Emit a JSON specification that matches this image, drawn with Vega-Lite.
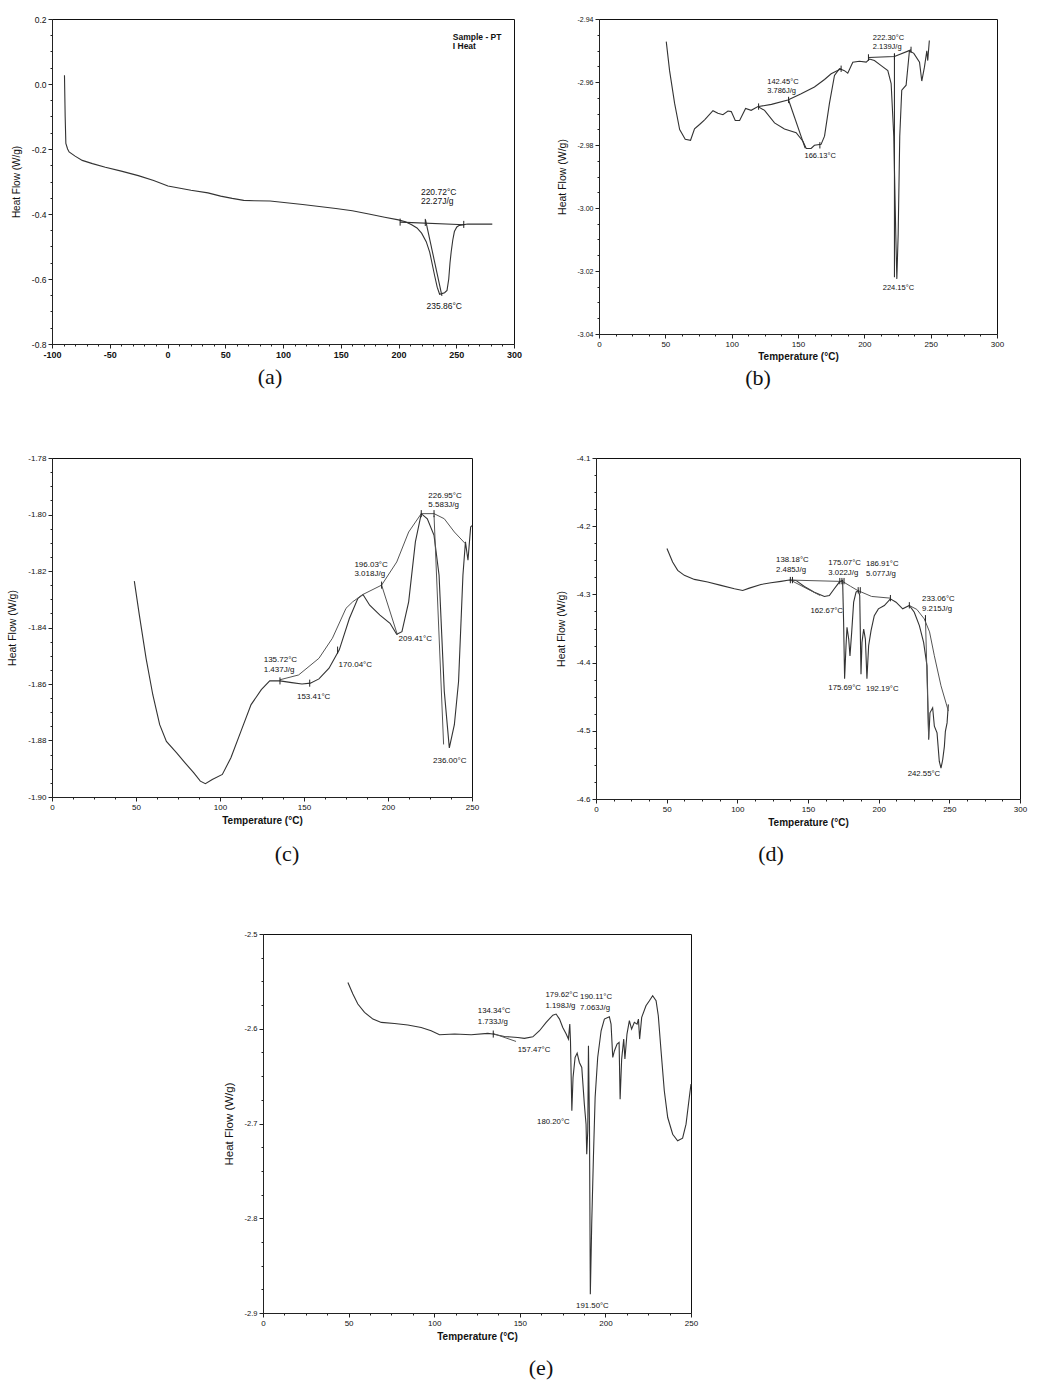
{
"$schema": "https://vega.github.io/schema/vega-lite/v6.json",
"background": "white",
"padding": {"left": 6, "top": 14, "right": 0, "bottom": 0},
"spacing": 63,
"datasets": {
"aCurve": [{"t":-89.2,"hf":0.027},{"t":-88.6,"hf":-0.1},{"t":-88,"hf":-0.183},{"t":-86.5,"hf":-0.2},{"t":-85.2,"hf":-0.209},{"t":-80,"hf":-0.222},{"t":-73.8,"hf":-0.235},{"t":-65,"hf":-0.245},{"t":-53.8,"hf":-0.256},{"t":-40,"hf":-0.268},{"t":-25.3,"hf":-0.282},{"t":-12,"hf":-0.297},{"t":0.4,"hf":-0.314},{"t":20.3,"hf":-0.327},{"t":35,"hf":-0.335},{"t":46,"hf":-0.345},{"t":56,"hf":-0.352},{"t":66,"hf":-0.358},{"t":75,"hf":-0.359},{"t":88.8,"hf":-0.36},{"t":117,"hf":-0.371},{"t":145.8,"hf":-0.383},{"t":160,"hf":-0.39},{"t":174.3,"hf":-0.4},{"t":188,"hf":-0.41},{"t":200,"hf":-0.418},{"t":206,"hf":-0.424},{"t":211.4,"hf":-0.433},{"t":216,"hf":-0.443},{"t":220,"hf":-0.459},{"t":224,"hf":-0.485},{"t":227,"hf":-0.517},{"t":231.3,"hf":-0.59},{"t":233.5,"hf":-0.625},{"t":235.6,"hf":-0.647},{"t":237.5,"hf":-0.645},{"t":239.9,"hf":-0.642},{"t":242,"hf":-0.635},{"t":243.5,"hf":-0.6},{"t":244.6,"hf":-0.55},{"t":245.6,"hf":-0.517},{"t":247,"hf":-0.48},{"t":248.4,"hf":-0.454},{"t":250.5,"hf":-0.44},{"t":252.7,"hf":-0.435},{"t":259.9,"hf":-0.431},{"t":281.2,"hf":-0.431}],
"aLines": [{"seg":1,"t":201.4,"hf":-0.425},{"seg":1,"t":257,"hf":-0.433},{"seg":2,"t":223.4,"hf":-0.418},{"seg":2,"t":237.6,"hf":-0.652}],
"aTicks": [{"t":201.4,"hf":-0.425},{"t":223.2,"hf":-0.426},{"t":256.5,"hf":-0.432}],
"aText": [{"t":219.4,"hf":-0.331,"label":"220.72°C"},{"t":219.4,"hf":-0.36,"label":"22.27J/g"},{"t":224.2,"hf":-0.683,"label":"235.86°C"}],
"aNote": [{"t":247,"hf":0.145,"label":"Sample - PT"},{"t":247,"hf":0.117,"label":"I Heat"}],
"bCurve": [{"t":50.7,"hf":-2.9472},{"t":53.2,"hf":-2.9564},{"t":57,"hf":-2.9668},{"t":60.8,"hf":-2.9751},{"t":65,"hf":-2.9782},{"t":69,"hf":-2.9785},{"t":72,"hf":-2.9749},{"t":75.8,"hf":-2.9735},{"t":79.6,"hf":-2.972},{"t":85.9,"hf":-2.9691},{"t":89.6,"hf":-2.9699},{"t":93.4,"hf":-2.9704},{"t":97.2,"hf":-2.9692},{"t":99.7,"hf":-2.9694},{"t":102.7,"hf":-2.9722},{"t":106,"hf":-2.9722},{"t":110.5,"hf":-2.9684},{"t":114.7,"hf":-2.969},{"t":119.8,"hf":-2.9678},{"t":124.8,"hf":-2.969},{"t":132.3,"hf":-2.973},{"t":139.8,"hf":-2.9749},{"t":148.6,"hf":-2.9761},{"t":153.7,"hf":-2.9788},{"t":156.2,"hf":-2.9811},{"t":159.9,"hf":-2.9811},{"t":162.4,"hf":-2.9801},{"t":167.4,"hf":-2.9798},{"t":170,"hf":-2.9772},{"t":173.7,"hf":-2.9668},{"t":177.5,"hf":-2.9579},{"t":181.3,"hf":-2.9558},{"t":185,"hf":-2.9564},{"t":187.5,"hf":-2.9572},{"t":191.3,"hf":-2.9537},{"t":196.3,"hf":-2.9534},{"t":201.4,"hf":-2.9537},{"t":203.9,"hf":-2.9527},{"t":207.6,"hf":-2.9532},{"t":212.7,"hf":-2.9548},{"t":217.7,"hf":-2.9564},{"t":220.2,"hf":-2.9605},{"t":222.2,"hf":-2.9772},{"t":223.7,"hf":-3.0084},{"t":224.5,"hf":-3.0225},{"t":225.5,"hf":-3.0084},{"t":226.7,"hf":-2.9772},{"t":228.2,"hf":-2.9626},{"t":231.5,"hf":-2.961},{"t":234,"hf":-2.9501},{"t":237.3,"hf":-2.9509},{"t":241.6,"hf":-2.9537},{"t":243.3,"hf":-2.9597},{"t":245.3,"hf":-2.9553},{"t":247.1,"hf":-2.9501},{"t":247.8,"hf":-2.9532},{"t":249,"hf":-2.9468}],
"bLines": [{"seg":1,"t":120.3,"hf":-2.9678},{"seg":1,"t":130,"hf":-2.9671},{"seg":1,"t":142.4,"hf":-2.9657},{"seg":1,"t":152,"hf":-2.9638},{"seg":1,"t":162.4,"hf":-2.9616},{"seg":1,"t":170,"hf":-2.9592},{"seg":1,"t":175,"hf":-2.9574},{"seg":1,"t":182.5,"hf":-2.9558},{"seg":2,"t":142.9,"hf":-2.9657},{"seg":2,"t":155.4,"hf":-2.981},{"seg":3,"t":203.1,"hf":-2.9522},{"seg":3,"t":222.7,"hf":-2.9519},{"seg":3,"t":235.2,"hf":-2.9498},{"seg":4,"t":222.7,"hf":-2.951},{"seg":4,"t":222.7,"hf":-3.022}],
"bTicks": [{"t":120.3,"hf":-2.9678},{"t":142.9,"hf":-2.9657},{"t":166.5,"hf":-2.9801},{"t":182.5,"hf":-2.9558},{"t":203.1,"hf":-2.9522},{"t":222.7,"hf":-2.9519},{"t":235.2,"hf":-2.9498}],
"bText": [{"t":126.8,"hf":-2.96,"label":"142.45°C"},{"t":126.8,"hf":-2.9628,"label":"3.786J/g"},{"t":154.9,"hf":-2.9834,"label":"166.13°C"},{"t":206.4,"hf":-2.9459,"label":"222.30°C"},{"t":206.4,"hf":-2.9489,"label":"2.139J/g"},{"t":213.9,"hf":-3.0253,"label":"224.15°C"}],
"cCurve": [{"t":49,"hf":-1.8236},{"t":52,"hf":-1.8356},{"t":56,"hf":-1.8509},{"t":60,"hf":-1.8638},{"t":64.1,"hf":-1.8744},{"t":68.1,"hf":-1.8803},{"t":74.2,"hf":-1.8844},{"t":79.2,"hf":-1.8879},{"t":84.3,"hf":-1.8914},{"t":88.3,"hf":-1.8944},{"t":91.3,"hf":-1.8953},{"t":95.4,"hf":-1.8938},{"t":101.4,"hf":-1.892},{"t":106.5,"hf":-1.8861},{"t":112.5,"hf":-1.8767},{"t":118.5,"hf":-1.8673},{"t":124.6,"hf":-1.862},{"t":129.6,"hf":-1.8589},{"t":135.7,"hf":-1.8589},{"t":142.7,"hf":-1.8595},{"t":148.8,"hf":-1.86},{"t":153.8,"hf":-1.8597},{"t":158.9,"hf":-1.8582},{"t":164.9,"hf":-1.8544},{"t":171,"hf":-1.8479},{"t":177,"hf":-1.8368},{"t":182.1,"hf":-1.8297},{"t":185.1,"hf":-1.8283},{"t":189.1,"hf":-1.8321},{"t":195.2,"hf":-1.8356},{"t":201.2,"hf":-1.8385},{"t":205.2,"hf":-1.8424},{"t":208.3,"hf":-1.8415},{"t":212.3,"hf":-1.8309},{"t":216.3,"hf":-1.8097},{"t":219.8,"hf":-1.7997},{"t":223.4,"hf":-1.8015},{"t":227.4,"hf":-1.8074},{"t":230.4,"hf":-1.8215},{"t":233.5,"hf":-1.8626},{"t":236.5,"hf":-1.8826},{"t":239.5,"hf":-1.8744},{"t":242,"hf":-1.8591},{"t":244.6,"hf":-1.8215},{"t":246.1,"hf":-1.8097},{"t":247.6,"hf":-1.8162},{"t":249.2,"hf":-1.8044},{"t":250,"hf":-1.8039}],
"cLines": [{"seg":1,"t":135.7,"hf":-1.8585},{"seg":1,"t":146.8,"hf":-1.8568},{"seg":1,"t":158.9,"hf":-1.8509},{"seg":1,"t":166.9,"hf":-1.8438},{"seg":1,"t":175,"hf":-1.8332},{"seg":1,"t":179,"hf":-1.8309},{"seg":1,"t":185.1,"hf":-1.8283},{"seg":1,"t":196.2,"hf":-1.825},{"seg":1,"t":205.2,"hf":-1.8168},{"seg":1,"t":212.3,"hf":-1.8062},{"seg":1,"t":219.8,"hf":-1.7997},{"seg":1,"t":227.4,"hf":-1.7997},{"seg":1,"t":233.5,"hf":-1.8015},{"seg":1,"t":239.5,"hf":-1.8062},{"seg":1,"t":246,"hf":-1.8103},{"seg":2,"t":196.2,"hf":-1.825},{"seg":2,"t":205.6,"hf":-1.8426},{"seg":3,"t":227.4,"hf":-1.8004},{"seg":3,"t":233.1,"hf":-1.8814}],
"cTicks": [{"t":135.7,"hf":-1.8589},{"t":153.4,"hf":-1.8597},{"t":170.0,"hf":-1.848},{"t":196.2,"hf":-1.825},{"t":219.8,"hf":-1.7997},{"t":227.4,"hf":-1.7997}],
"cText": [{"t":126,"hf":-1.8515,"label":"135.72°C"},{"t":126,"hf":-1.855,"label":"1.437J/g"},{"t":145.8,"hf":-1.8647,"label":"153.41°C"},{"t":170.6,"hf":-1.8532,"label":"170.04°C"},{"t":180,"hf":-1.8177,"label":"196.03°C"},{"t":180,"hf":-1.8209,"label":"3.018J/g"},{"t":206.3,"hf":-1.8442,"label":"209.41°C"},{"t":224,"hf":-1.7933,"label":"226.95°C"},{"t":224,"hf":-1.7968,"label":"5.583J/g"},{"t":226.8,"hf":-1.8871,"label":"236.00°C"}],
"dCurve": [{"t":50.2,"hf":-4.2327},{"t":54.2,"hf":-4.2524},{"t":57.8,"hf":-4.2647},{"t":62.5,"hf":-4.2721},{"t":69.6,"hf":-4.278},{"t":79,"hf":-4.2819},{"t":88.4,"hf":-4.2868},{"t":97.9,"hf":-4.2917},{"t":103.8,"hf":-4.2942},{"t":108.5,"hf":-4.2908},{"t":116.7,"hf":-4.2854},{"t":123.8,"hf":-4.283},{"t":130.9,"hf":-4.2809},{"t":136.8,"hf":-4.279},{"t":141.5,"hf":-4.2795},{"t":147.4,"hf":-4.2883},{"t":154.5,"hf":-4.2967},{"t":161.6,"hf":-4.303},{"t":165.1,"hf":-4.3016},{"t":168.6,"hf":-4.2917},{"t":172.2,"hf":-4.2819},{"t":174.5,"hf":-4.2795},{"t":175.2,"hf":-4.3409},{"t":175.9,"hf":-4.4235},{"t":176.9,"hf":-4.3753},{"t":177.6,"hf":-4.3483},{"t":178.8,"hf":-4.3655},{"t":179.7,"hf":-4.3901},{"t":180.9,"hf":-4.3557},{"t":182.3,"hf":-4.3114},{"t":184,"hf":-4.2967},{"t":185.6,"hf":-4.2942},{"t":186.6,"hf":-4.3016},{"t":187.5,"hf":-4.4171},{"t":188.2,"hf":-4.3704},{"t":189.4,"hf":-4.3507},{"t":190.6,"hf":-4.3655},{"t":191.7,"hf":-4.4235},{"t":192.9,"hf":-4.3753},{"t":194.6,"hf":-4.3532},{"t":196.9,"hf":-4.3311},{"t":199.8,"hf":-4.3212},{"t":204,"hf":-4.3163},{"t":208.3,"hf":-4.3065},{"t":212.3,"hf":-4.3114},{"t":217,"hf":-4.3212},{"t":221.7,"hf":-4.3163},{"t":225.2,"hf":-4.3261},{"t":228.8,"hf":-4.3458},{"t":231.8,"hf":-4.3704},{"t":234.2,"hf":-4.4048},{"t":235.4,"hf":-4.513},{"t":236.3,"hf":-4.4737},{"t":238.2,"hf":-4.4663},{"t":239.4,"hf":-4.4933},{"t":241.3,"hf":-4.5031},{"t":242.9,"hf":-4.5449},{"t":244.1,"hf":-4.5548},{"t":245.3,"hf":-4.5425},{"t":246.5,"hf":-4.5228},{"t":247.2,"hf":-4.5007},{"t":248.4,"hf":-4.4884},{"t":249.3,"hf":-4.4613}],
"dLines": [{"seg":1,"t":136.8,"hf":-4.279},{"seg":1,"t":174.5,"hf":-4.281},{"seg":2,"t":138,"hf":-4.2795},{"seg":2,"t":158.6,"hf":-4.3016},{"seg":3,"t":174.5,"hf":-4.281},{"seg":3,"t":180,"hf":-4.288},{"seg":3,"t":185.1,"hf":-4.2942},{"seg":3,"t":195,"hf":-4.303},{"seg":3,"t":208.3,"hf":-4.3055},{"seg":4,"t":221.7,"hf":-4.3163},{"seg":4,"t":227,"hf":-4.322},{"seg":4,"t":232.3,"hf":-4.336},{"seg":4,"t":236,"hf":-4.355},{"seg":4,"t":239.4,"hf":-4.39},{"seg":4,"t":244.1,"hf":-4.434},{"seg":4,"t":249.3,"hf":-4.471},{"seg":5,"t":233.1,"hf":-4.335},{"seg":5,"t":235.4,"hf":-4.51}],
"dTicks": [{"t":137.5,"hf":-4.279},{"t":139,"hf":-4.279},{"t":172.5,"hf":-4.2805},{"t":174,"hf":-4.2805},{"t":175.5,"hf":-4.2805},{"t":185.5,"hf":-4.294},{"t":187,"hf":-4.294},{"t":208.3,"hf":-4.3055},{"t":221.7,"hf":-4.316},{"t":233.1,"hf":-4.335}],
"dText": [{"t":127.4,"hf":-4.25,"label":"138.18°C"},{"t":127.4,"hf":-4.2637,"label":"2.485J/g"},{"t":164.4,"hf":-4.2534,"label":"175.07°C"},{"t":164.4,"hf":-4.2681,"label":"3.022J/g"},{"t":191,"hf":-4.2549,"label":"186.91°C"},{"t":191,"hf":-4.2696,"label":"5.077J/g"},{"t":151.7,"hf":-4.3237,"label":"162.67°C"},{"t":230.7,"hf":-4.3065,"label":"233.06°C"},{"t":230.7,"hf":-4.3212,"label":"9.215J/g"},{"t":164.4,"hf":-4.4368,"label":"175.69°C"},{"t":191,"hf":-4.4383,"label":"192.19°C"},{"t":220.5,"hf":-4.5636,"label":"242.55°C"}],
"eCurve": [{"t":49.6,"hf":-2.5511},{"t":52.5,"hf":-2.5634},{"t":55.4,"hf":-2.5739},{"t":59.3,"hf":-2.5827},{"t":64.2,"hf":-2.5898},{"t":69.1,"hf":-2.5933},{"t":76.8,"hf":-2.5944},{"t":84.6,"hf":-2.5961},{"t":92.4,"hf":-2.5986},{"t":98.2,"hf":-2.6021},{"t":103.1,"hf":-2.6063},{"t":111.9,"hf":-2.6056},{"t":121.6,"hf":-2.6063},{"t":131.3,"hf":-2.6049},{"t":134.2,"hf":-2.6056},{"t":141,"hf":-2.6081},{"t":148.8,"hf":-2.6092},{"t":152.7,"hf":-2.6102},{"t":157.6,"hf":-2.6085},{"t":161.5,"hf":-2.6021},{"t":165.4,"hf":-2.5933},{"t":169.3,"hf":-2.5856},{"t":171.2,"hf":-2.5845},{"t":173.2,"hf":-2.5898},{"t":175.1,"hf":-2.5986},{"t":177.1,"hf":-2.6056},{"t":178.4,"hf":-2.6109},{"t":179.2,"hf":-2.5951},{"t":179.6,"hf":-2.6127},{"t":180.4,"hf":-2.6866},{"t":181.1,"hf":-2.6514},{"t":182.3,"hf":-2.6303},{"t":183.5,"hf":-2.6257},{"t":184.8,"hf":-2.6356},{"t":186.2,"hf":-2.6408},{"t":187.7,"hf":-2.6796},{"t":188.7,"hf":-2.7007},{"t":189.1,"hf":-2.7324},{"t":189.7,"hf":-2.7077},{"t":190.1,"hf":-2.618},{"t":190.7,"hf":-2.7007},{"t":191.2,"hf":-2.8803},{"t":192,"hf":-2.8063},{"t":193,"hf":-2.7359},{"t":194,"hf":-2.6725},{"t":195.5,"hf":-2.6303},{"t":197.5,"hf":-2.6021},{"t":199.4,"hf":-2.5898},{"t":202.3,"hf":-2.5873},{"t":203.3,"hf":-2.5951},{"t":204.3,"hf":-2.6303},{"t":205.3,"hf":-2.6232},{"t":206.8,"hf":-2.6162},{"t":208,"hf":-2.6144},{"t":208.6,"hf":-2.6743},{"t":209.5,"hf":-2.632},{"t":210.7,"hf":-2.6109},{"t":211.4,"hf":-2.632},{"t":212.6,"hf":-2.6056},{"t":214,"hf":-2.5915},{"t":215.3,"hf":-2.6004},{"t":216.9,"hf":-2.5933},{"t":218.5,"hf":-2.5951},{"t":219.3,"hf":-2.5898},{"t":220,"hf":-2.6109},{"t":221.2,"hf":-2.588},{"t":223.7,"hf":-2.5757},{"t":225.7,"hf":-2.5704},{"t":227.6,"hf":-2.5651},{"t":229.6,"hf":-2.5704},{"t":230.9,"hf":-2.5863},{"t":232.5,"hf":-2.6232},{"t":234.4,"hf":-2.6655},{"t":236.4,"hf":-2.6937},{"t":239.3,"hf":-2.7113},{"t":242.2,"hf":-2.7183},{"t":245.1,"hf":-2.7155},{"t":247.1,"hf":-2.7007},{"t":249,"hf":-2.6725},{"t":250,"hf":-2.6585}],
"eLines": [{"seg":1,"t":134.2,"hf":-2.6049},{"seg":1,"t":147.8,"hf":-2.6134}],
"eTicks": [{"t":134.5,"hf":-2.6056}],
"eText": [{"t":125.5,"hf":-2.5817,"label":"134.34°C"},{"t":125.5,"hf":-2.5933,"label":"1.733J/g"},{"t":148.8,"hf":-2.6225,"label":"157.47°C"},{"t":165,"hf":-2.5641,"label":"179.62°C"},{"t":165,"hf":-2.5757,"label":"1.198J/g"},{"t":185.2,"hf":-2.5669,"label":"190.11°C"},{"t":185.2,"hf":-2.5782,"label":"7.063J/g"},{"t":160.1,"hf":-2.6982,"label":"180.20°C"},{"t":182.9,"hf":-2.8926,"label":"191.50°C"}]
},
"vconcat": [
{"hconcat": [
    {"width": 462, "height": 325,
     "title": {"text": "(a)", "orient": "bottom", "dx": -13, "offset": 8},
     "encoding": {
       "x": {"field": "t", "type": "quantitative", "scale": {"domain": [-100, 300], "nice": false, "zero": false}, "axis": {"title": null, "values": [-100,-90,-80,-70,-60,-50,-40,-30,-20,-10,0,10,20,30,40,50,60,70,80,90,100,110,120,130,140,150,160,170,180,190,200,210,220,230,240,250,260,270,280,290,300], "labelExpr": "datum.value % 50 === 0 ? replace(datum.label, '\u2212', '-') : ''", "tickSize": {"condition": {"test": "datum.value % 50 === 0", "value": 4}, "value": 2}, "labelFontSize": 9, "labelFontWeight": "bold"}},
       "y": {"field": "hf", "type": "quantitative", "scale": {"domain": [-0.8, 0.2], "nice": false, "zero": false}, "axis": {"title": "Heat Flow (W/g)", "values": [0.2,0.15,0.1,0.05,0,-0.05,-0.1,-0.15,-0.2,-0.25,-0.3,-0.35,-0.4,-0.45,-0.5,-0.55,-0.6,-0.65,-0.7,-0.75,-0.8], "format": ".1f", "labelExpr": "abs(datum.value*5 - round(datum.value*5)) < 0.000001 ? replace(datum.label, '\u2212', '-') : ''", "tickSize": {"condition": {"test": "abs(datum.value*5 - round(datum.value*5)) < 0.000001", "value": 4}, "value": 2}, "labelFontSize": 8.5, "minExtent": 21, "maxExtent": 21, "titlePadding": 10, "titleFontSize": 10}}
     },
     "layer": [
       {"data": {"name": "aCurve"}, "mark": {"type": "line", "color": "#333", "strokeWidth": 1.1}, "encoding": {"order": {"value": null}}},
       {"data": {"name": "aLines"}, "mark": {"type": "line", "color": "#333", "strokeWidth": 1.1}, "encoding": {"detail": {"field": "seg"}, "order": {"value": null}}},
       {"data": {"name": "aTicks"}, "mark": {"type": "point", "shape": "M0,-1L0,1", "size": 50, "filled": false, "strokeWidth": 1, "color": "#222", "opacity": 1}},
       {"data": {"name": "aText"}, "mark": {"type": "text", "align": "left", "baseline": "middle", "fontSize": 8.5}, "encoding": {"text": {"field": "label"}}},
       {"data": {"name": "aNote"}, "mark": {"type": "text", "align": "left", "baseline": "middle", "fontSize": 8.5, "fontWeight": "bold"}, "encoding": {"text": {"field": "label"}}}
     ]},
  {"width": 398, "height": 315,
   "title": {"text": "(b)", "orient": "bottom", "dx": -40, "offset": 7},
   "encoding": {
     "x": {"field": "t", "type": "quantitative", "scale": {"domain": [0, 300], "nice": false, "zero": false}, "axis": {"title": "Temperature (°C)", "values": [0,12.5,25,37.5,50,62.5,75,87.5,100,112.5,125,137.5,150,162.5,175,187.5,200,212.5,225,237.5,250,262.5,275,287.5,300], "labelExpr": "datum.value % 50 === 0 ? datum.label : ''", "tickSize": {"condition": {"test": "datum.value % 50 === 0", "value": 4}, "value": 2}, "titlePadding": 3}},
     "y": {"field": "hf", "type": "quantitative", "scale": {"domain": [-3.04, -2.94], "nice": false, "zero": false}, "axis": {"title": "Heat Flow (W/g)", "values": [-2.94,-2.945,-2.95,-2.955,-2.96,-2.965,-2.97,-2.975,-2.98,-2.985,-2.99,-2.995,-3.0,-3.005,-3.01,-3.015,-3.02,-3.025,-3.03,-3.035,-3.04], "format": ".2f", "labelExpr": "abs(datum.value*50 - round(datum.value*50)) < 0.000001 ? replace(datum.label, '\u2212', '-') : ''", "tickSize": {"condition": {"test": "abs(datum.value*50 - round(datum.value*50)) < 0.000001", "value": 4}, "value": 2}, "labelFontSize": 7, "titlePadding": 10}}
   },
   "layer": [
     {"data": {"name": "bCurve"}, "mark": {"type": "line", "color": "#333", "strokeWidth": 1.1}, "encoding": {"order": {"value": null}}},
     {"data": {"name": "bLines"}, "mark": {"type": "line", "color": "#333", "strokeWidth": 1.1}, "encoding": {"detail": {"field": "seg"}, "order": {"value": null}}},
     {"data": {"name": "bTicks"}, "mark": {"type": "point", "shape": "M0,-1L0,1", "size": 40, "filled": false, "strokeWidth": 1, "color": "#222", "opacity": 1}},
     {"data": {"name": "bText"}, "mark": {"type": "text", "align": "left", "baseline": "middle", "fontSize": 7.5}, "encoding": {"text": {"field": "label"}}},
     {"data": {"values": [{}]}, "mark": {"type": "text", "text": "Exo Up", "align": "right", "baseline": "middle", "dx": -10, "dy": 22, "fontSize": 6.5, "fontWeight": "bold"}, "encoding": {"x": {"datum": 0}, "y": {"datum": -3.04}}},
     {"data": {"values": [{}]}, "mark": {"type": "text", "text": "Universal V3.9A TA Instruments", "align": "center", "baseline": "middle", "dx": -4, "dy": 22, "fontSize": 6.5, "fontWeight": "bold"}, "encoding": {"x": {"datum": 300}, "y": {"datum": -3.04}}}
   ]}
], "spacing": 85, "bounds": "flush"},
{"hconcat": [
      {"width": 420, "height": 339,
       "title": {"text": "(c)", "orient": "bottom", "dx": 25, "offset": 19},
       "encoding": {
         "x": {"field": "t", "type": "quantitative", "scale": {"domain": [0, 250], "nice": false, "zero": false}, "axis": {"title": "Temperature (°C)", "values": [0,12.5,25,37.5,50,62.5,75,87.5,100,112.5,125,137.5,150,162.5,175,187.5,200,212.5,225,237.5,250], "labelExpr": "datum.value % 50 === 0 ? datum.label : ''", "tickSize": {"condition": {"test": "datum.value % 50 === 0", "value": 4}, "value": 2}, "titlePadding": 4}},
         "y": {"field": "hf", "type": "quantitative", "scale": {"domain": [-1.9, -1.78], "nice": false, "zero": false}, "axis": {"title": "Heat Flow (W/g)", "values": [-1.78,-1.785,-1.79,-1.795,-1.8,-1.805,-1.81,-1.815,-1.82,-1.825,-1.83,-1.835,-1.84,-1.845,-1.85,-1.855,-1.86,-1.865,-1.87,-1.875,-1.88,-1.885,-1.89,-1.895,-1.9], "format": ".2f", "labelExpr": "abs(datum.value*50 - round(datum.value*50)) < 0.000001 ? replace(datum.label, '\u2212', '-') : ''", "tickSize": {"condition": {"test": "abs(datum.value*50 - round(datum.value*50)) < 0.000001", "value": 4}, "value": 2}, "minExtent": 25, "maxExtent": 25, "titlePadding": 10}}
       },
       "layer": [
         {"data": {"name": "cCurve"}, "mark": {"type": "line", "color": "#333", "strokeWidth": 1.1}, "encoding": {"order": {"value": null}}},
         {"data": {"name": "cLines"}, "mark": {"type": "line", "color": "#555", "strokeWidth": 1}, "encoding": {"detail": {"field": "seg"}, "order": {"value": null}}},
         {"data": {"name": "cTicks"}, "mark": {"type": "point", "shape": "M0,-1L0,1", "size": 50, "filled": false, "strokeWidth": 1, "color": "#222", "opacity": 1}},
         {"data": {"name": "cText"}, "mark": {"type": "text", "align": "left", "baseline": "middle", "fontSize": 8}, "encoding": {"text": {"field": "label"}}},
         {"data": {"values": [{}]}, "mark": {"type": "text", "text": "Exo Up", "align": "right", "baseline": "middle", "dx": -10, "dy": 24, "fontSize": 6.5, "fontWeight": "bold"}, "encoding": {"x": {"datum": 0}, "y": {"datum": -1.9}}},
         {"data": {"values": [{}]}, "mark": {"type": "text", "text": "Universal V3.9A TA Instruments", "align": "center", "baseline": "middle", "dx": -4, "dy": 24, "fontSize": 6.5, "fontWeight": "bold"}, "encoding": {"x": {"datum": 250}, "y": {"datum": -1.9}}}
       ]},
        {"width": 424, "height": 341,
         "title": {"text": "(d)", "orient": "bottom", "dx": -37, "offset": 17},
         "encoding": {
           "x": {"field": "t", "type": "quantitative", "scale": {"domain": [0, 300], "nice": false, "zero": false}, "axis": {"title": "Temperature (°C)", "values": [0,12.5,25,37.5,50,62.5,75,87.5,100,112.5,125,137.5,150,162.5,175,187.5,200,212.5,225,237.5,250,262.5,275,287.5,300], "labelExpr": "datum.value % 50 === 0 ? datum.label : ''", "tickSize": {"condition": {"test": "datum.value % 50 === 0", "value": 4}, "value": 2}, "titlePadding": 4}},
           "y": {"field": "hf", "type": "quantitative", "scale": {"domain": [-4.6, -4.1], "nice": false, "zero": false}, "axis": {"title": "Heat Flow (W/g)", "values": [-4.1,-4.125,-4.15,-4.175,-4.2,-4.225,-4.25,-4.275,-4.3,-4.325,-4.35,-4.375,-4.4,-4.425,-4.45,-4.475,-4.5,-4.525,-4.55,-4.575,-4.6], "format": ".1f", "labelExpr": "abs(datum.value*10 - round(datum.value*10)) < 0.000001 ? replace(datum.label, '\u2212', '-') : ''", "tickSize": {"condition": {"test": "abs(datum.value*10 - round(datum.value*10)) < 0.000001", "value": 4}, "value": 2}, "titlePadding": 10}}
         },
         "layer": [
           {"data": {"name": "dCurve"}, "mark": {"type": "line", "color": "#333", "strokeWidth": 1.1}, "encoding": {"order": {"value": null}}},
           {"data": {"name": "dLines"}, "mark": {"type": "line", "color": "#555", "strokeWidth": 1}, "encoding": {"detail": {"field": "seg"}, "order": {"value": null}}},
           {"data": {"name": "dTicks"}, "mark": {"type": "point", "shape": "M0,-1L0,1", "size": 40, "filled": false, "strokeWidth": 1, "color": "#222", "opacity": 1}},
           {"data": {"name": "dText"}, "mark": {"type": "text", "align": "left", "baseline": "middle", "fontSize": 7.8}, "encoding": {"text": {"field": "label"}}},
           {"data": {"values": [{}]}, "mark": {"type": "text", "text": "Exo Up", "align": "right", "baseline": "middle", "dx": -10, "dy": 24, "fontSize": 6.5, "fontWeight": "bold"}, "encoding": {"x": {"datum": 0}, "y": {"datum": -4.6}}},
           {"data": {"values": [{}]}, "mark": {"type": "text", "text": "Universal V3.9A TA Instruments", "align": "center", "baseline": "middle", "dx": -4, "dy": 24, "fontSize": 6.5, "fontWeight": "bold"}, "encoding": {"x": {"datum": 300}, "y": {"datum": -4.6}}}
         ]}
], "spacing": 124, "bounds": "flush"},
{"hconcat": [
    {"width": 1, "height": 1, "data": {"values": [{}]}, "mark": {"type": "point", "opacity": 0}, "view": {"stroke": null}},
    {"width": 428, "height": 379,
     "title": {"text": "(e)", "orient": "bottom", "dx": 64, "offset": 17},
     "encoding": {
       "x": {"field": "t", "type": "quantitative", "scale": {"domain": [0, 250], "nice": false, "zero": false}, "axis": {"title": "Temperature (°C)", "values": [0,12.5,25,37.5,50,62.5,75,87.5,100,112.5,125,137.5,150,162.5,175,187.5,200,212.5,225,237.5,250], "labelExpr": "datum.value % 50 === 0 ? datum.label : ''", "tickSize": {"condition": {"test": "datum.value % 50 === 0", "value": 4}, "value": 2}, "titlePadding": 4}},
       "y": {"field": "hf", "type": "quantitative", "scale": {"domain": [-2.9, -2.5], "nice": false, "zero": false}, "axis": {"title": "Heat Flow (W/g)", "values": [-2.5,-2.525,-2.55,-2.575,-2.6,-2.625,-2.65,-2.675,-2.7,-2.725,-2.75,-2.775,-2.8,-2.825,-2.85,-2.875,-2.9], "format": ".1f", "labelExpr": "abs(datum.value*10 - round(datum.value*10)) < 0.000001 ? replace(datum.label, '\u2212', '-') : ''", "tickSize": {"condition": {"test": "abs(datum.value*10 - round(datum.value*10)) < 0.000001", "value": 4}, "value": 2}, "labelFontSize": 7.5, "titlePadding": 10, "titleFontSize": 11.5}}
     },
     "layer": [
       {"data": {"name": "eCurve"}, "mark": {"type": "line", "color": "#333", "strokeWidth": 1.1}, "encoding": {"order": {"value": null}}},
       {"data": {"name": "eLines"}, "mark": {"type": "line", "color": "#555", "strokeWidth": 1}, "encoding": {"detail": {"field": "seg"}, "order": {"value": null}}},
       {"data": {"name": "eTicks"}, "mark": {"type": "point", "shape": "M0,-1L0,1", "size": 50, "filled": false, "strokeWidth": 1, "color": "#222", "opacity": 1}},
       {"data": {"name": "eText"}, "mark": {"type": "text", "align": "left", "baseline": "middle", "fontSize": 7.8}, "encoding": {"text": {"field": "label"}}},
       {"data": {"values": [{}]}, "mark": {"type": "text", "text": "Exo Up", "align": "right", "baseline": "middle", "dx": -10, "dy": 25, "fontSize": 6.5, "fontWeight": "bold"}, "encoding": {"x": {"datum": 0}, "y": {"datum": -2.9}}},
       {"data": {"values": [{}]}, "mark": {"type": "text", "text": "Universal V3.9A TA Instruments", "align": "center", "baseline": "middle", "dx": -4, "dy": 25, "fontSize": 6.5, "fontWeight": "bold"}, "encoding": {"x": {"datum": 250}, "y": {"datum": -2.9}}}
     ]}
], "spacing": 210, "bounds": "flush"}
],
"config": {
  "font": "Liberation Sans",
  "view": {"stroke": "#111", "strokeWidth": 1},
  "axis": {"grid": false, "domainColor": "#222", "tickColor": "#222", "labelColor": "#111", "titleColor": "#111", "labelFont": "Liberation Sans", "titleFont": "Liberation Sans", "labelFontSize": 8, "titleFontSize": 10.5, "titleFontWeight": "normal", "labelPadding": 2, "labelFlush": false, "labelOverlap": false},
  "axisX": {"titleFontWeight": "bold", "titleFontSize": 10},
  "title": {"font": "Liberation Serif", "fontSize": 22, "fontWeight": "normal", "color": "#111", "anchor": "middle"},
  "text": {"font": "Liberation Sans", "color": "#111"}
}
}
